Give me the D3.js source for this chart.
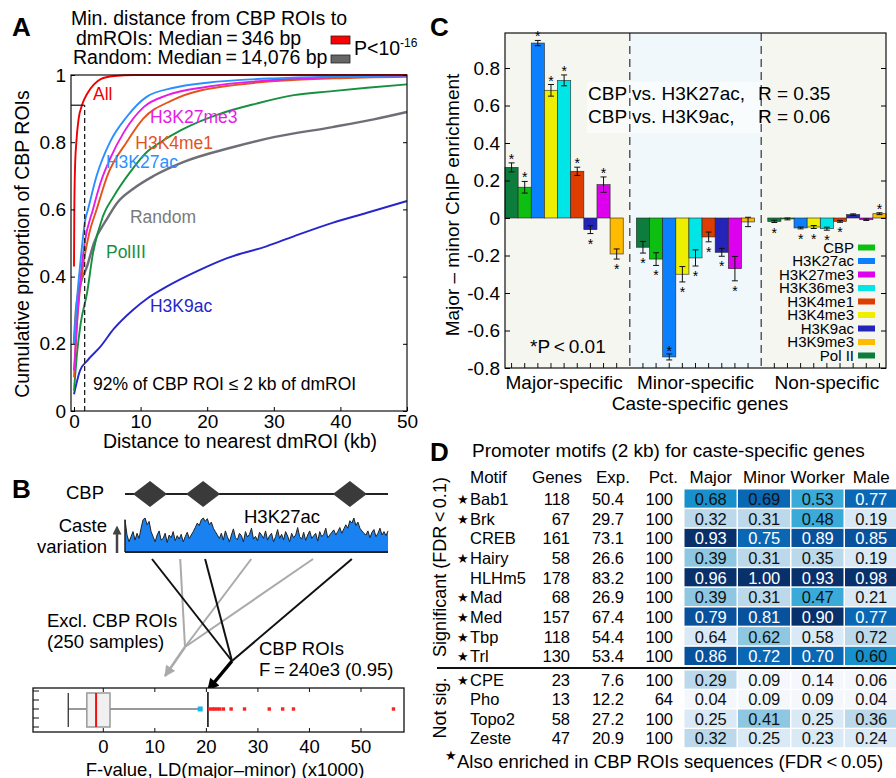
<!DOCTYPE html>
<html>
<head>
<meta charset="utf-8">
<script src="https://cdn.jsdelivr.net/npm/d3@7/dist/d3.min.js"></script>
<style>
html,body{margin:0;padding:0;background:#fff;}
svg{display:block;}
text{font-family:"Liberation Sans",Arial,Helvetica,sans-serif;}
</style>
</head>
<body>
<svg id="fig" width="896" height="778" viewBox="0 0 896 778"></svg>
<script>
/* ================= DATA ================= */
/* Panel A: cumulative distributions (distance kb, proportion) */
const cdfAll      = [[0,0.43],[0.05,0.6],[0.15,0.72],[0.35,0.8],[0.7,0.87],[1.2,0.91],[2,0.945],[3,0.972],[4,0.988],[6,0.997],[9,1],[50,1]];
const cdfH3K27me3 = [[0,0.12],[0.5,0.28],[1,0.4],[1.6,0.5],[2.85,0.6],[4,0.68],[5.4,0.75],[7.5,0.83],[10.5,0.905],[14,0.94],[20,0.965],[30,0.985],[40,0.995],[50,0.998]];
const cdfH3K4me1  = [[0,0.1],[0.6,0.3],[1.35,0.43],[2.3,0.53],[3.4,0.6],[5,0.7],[7.9,0.8],[10.4,0.87],[14.8,0.925],[24,0.97],[39,0.99],[50,0.995]];
const cdfH3K27ac  = [[0,0.2],[0.4,0.32],[0.9,0.43],[1.7,0.57],[2.1,0.6],[3.4,0.7],[5.4,0.8],[7.9,0.875],[10.9,0.935],[15,0.962],[20,0.977],[30,0.99],[50,0.998]];
const cdfRandom   = [[0,0.2],[0.3,0.3],[1,0.38],[1.95,0.43],[3,0.5],[4.9,0.57],[6.5,0.62],[8.8,0.66],[12,0.7],[16.3,0.74],[23.8,0.785],[30,0.815],[38.8,0.845],[45,0.868],[50,0.89]];
const cdfPolIII   = [[0,0.06],[0.5,0.18],[1,0.26],[1.95,0.35],[2.85,0.47],[4.35,0.58],[6,0.64],[8.4,0.71],[10.9,0.77],[13,0.8],[16,0.835],[22,0.885],[27.4,0.915],[33,0.94],[38.8,0.952],[44,0.962],[50,0.972]];
const cdfH3K9ac   = [[0,0.05],[0.9,0.12],[2,0.15],[3.9,0.19],[6,0.245],[8.8,0.3],[11,0.335],[13.9,0.37],[18.9,0.42],[23,0.455],[28.9,0.49],[33,0.52],[38.8,0.56],[44,0.59],[50,0.625]];
const cdfNames    = ["Random","H3K9ac","PolIII","H3K4me1","H3K27me3","H3K27ac","All"];
const cdfLabelPos = {All:[2.85,0.926],H3K27me3:[11.4,0.857],H3K4me1:[9.2,0.78],H3K27ac:[4.8,0.723],Random:[8.4,0.56],PolIII:[4.8,0.455],H3K9ac:[11.4,0.295]};
const cutoffKb = 1.6, cutoffFrac = 0.91;
const xTicksA = [0,10,20,30,40,50];
const yTicksA = [0,0.2,0.4,0.6,0.8,1];

/* Panel B */
const cbpPeaks   = [9.5, 29.7, 85.5];          // genomic position (0-100)
const exclPos    = [21, 48, 71.5];
const caste27ac  = [0.95,0.5,0.3,0.45,0.6,0.35,0.55,0.4,
  0.7,0.95,1.0,0.8,0.9,0.6,
  0.45,0.3,0.5,0.62,0.35,0.4,0.55,0.28,0.5,0.42,0.6,0.33,0.48,0.38,0.52,0.3,0.45,0.58,0.4,0.5,
  0.6,0.72,0.85,0.78,0.95,1.0,0.9,0.98,0.8,0.88,0.7,0.6,0.5,
  0.4,0.55,0.35,0.62,0.45,0.3,0.5,0.68,0.42,0.36,0.55,0.48,0.3,0.6,0.44,0.52,0.7,0.38,0.46,0.33,0.58,0.5,0.4,0.62,0.35,0.48,0.55,0.3,0.45,0.66,0.4,0.52,0.36,0.6,0.47,0.3,0.55,0.42,0.5,0.72,0.45,0.38,0.58,0.34,0.5,0.62,0.4,0.48,0.55,0.32,0.6,0.45,0.52,0.7,0.42,0.5,0.58,0.65,0.5,0.6,0.72,0.55,0.68,
  0.8,0.7,0.92,0.85,1.0,0.78,0.88,0.7,0.62,0.55,
  0.5,0.62,0.42,0.58,0.66,0.45,0.55,0.7,0.5,0.6,0.48,0.62];
const boxStats   = {lo:-6.8, q1:-3.2, med:-1.4, q3:1.3, hi:18.8};
const observedF  = 20.3;
const outliersF  = [20.6,21.2,21.6,22.1,22.6,23.3,24.8,27.4,32.2,34.8,36.9,56.3];
const xTicksB    = [0,10,20,30,40,50];

/* Panel C */
const chipGroups  = ["Major-specific","Minor-specific","Non-specific"];
const chipMarks   = ["Pol II","CBP","H3K27ac","H3K4me3","H3K36me3","H3K4me1","H3K9ac","H3K27me3","H3K9me3"];
const legendOrder = ["CBP","H3K27ac","H3K27me3","H3K36me3","H3K4me1","H3K4me3","H3K9ac","H3K9me3","Pol II"];
const majorVals = [0.27,0.164,0.933,0.681,0.734,0.249,-0.062,0.178,-0.192];
const majorErr  = [0.024,0.031,0.014,0.031,0.029,0.022,0.021,0.041,0.027];
const majorSig  = [1,1,1,1,1,1,1,1,1];
const minorVals = [-0.156,-0.219,-0.741,-0.300,-0.213,-0.101,-0.183,-0.270,-0.021];
const minorErr  = [0.031,0.034,0.016,0.041,0.043,0.026,0.021,0.065,0.025];
const minorSig  = [1,1,1,1,1,1,1,1,0];
const nonVals   = [-0.018,-0.005,-0.053,-0.048,-0.057,-0.018,0.018,-0.009,0.023];
const nonErr    = [0.006,0.005,0.005,0.008,0.008,0.005,0.004,0.004,0.005];
const nonSig    = [1,0,1,1,1,1,0,0,1];
const yTicksC   = [-0.8,-0.6,-0.4,-0.2,0,0.2,0.4,0.6,0.8];

/* Panel D */
const motifNames = ["Bab1","Brk","CREB","Hairy","HLHm5","Mad","Med","Tbp","Trl","CPE","Pho","Topo2","Zeste"];
const motifStar  = [1,1,0,1,0,1,1,1,1,1,0,0,0];
const motifGenes = [118,67,161,58,178,68,157,118,130,23,13,58,47];
const motifExp   = ["50.4","29.7","73.1","26.6","83.2","26.9","67.4","54.4","53.4","7.6","12.2","27.2","20.9"];
const motifPct   = [100,100,100,100,100,100,100,100,100,100,64,100,100];
const casteCols  = ["Major","Minor","Worker","Male"];
const casteValues = [[0.68,0.69,0.53,0.77],[0.32,0.31,0.48,0.19],[0.93,0.75,0.89,0.85],[0.39,0.31,0.35,0.19],[0.96,1.00,0.93,0.98],[0.39,0.31,0.47,0.21],[0.79,0.81,0.90,0.77],[0.64,0.62,0.58,0.72],[0.86,0.72,0.70,0.60],[0.29,0.09,0.14,0.06],[0.04,0.09,0.09,0.04],[0.25,0.41,0.25,0.36],[0.32,0.25,0.23,0.24]];
const casteLevels = [[5,6,4,6],[2,2,4,1],[8,6,7,7],[3,2,2,1],[8,8,8,8],[3,2,4,1],[7,7,8,6],[1,3,1,2],[7,6,6,5],[2,0,0,0],[0,0,0,0],[1,3,1,2],[2,1,1,1]];
const nSignificant = 9;

/* ================= DRAW ================= */
const svg = d3.select("#fig");
const defs = svg.append("defs");
function T(g, x, y, s, size, o={}) {
  const t = g.append("text").attr("x",x).attr("y",y).attr("font-size",size).text(s);
  if (o.anchor) t.attr("text-anchor",o.anchor);
  if (o.fill) t.attr("fill",o.fill);
  if (o.weight) t.attr("font-weight",o.weight);
  if (o.family) t.attr("font-family",o.family);
  return t;
}
function panelLabel(x,y,s){ T(svg,x,y,s,26,{weight:"bold"}); }

/* ---------- Panel A ---------- */
{
  const g = svg.append("g");
  const xA = d3.scaleLinear().domain([-0.45,50]).range([71,407]);
  const yA = d3.scaleLinear().domain([0,1]).range([411,75]);
  panelLabel(12,36,"A");
  T(g,71,25,"Min. distance from CBP ROIs to",19.5);
  T(g,76,45,"dmROIs: Median\u2009=\u2009346 bp",19.5);
  T(g,73,64,"Random: Median\u2009=\u200914,076 bp",19.5);
  g.append("rect").attr("x",331).attr("y",36).attr("width",19).attr("height",8).attr("fill","#ff0000").attr("stroke","#222").attr("stroke-width",0.8);
  g.append("rect").attr("x",331).attr("y",55).attr("width",19).attr("height",8).attr("fill","#666").attr("stroke","#222").attr("stroke-width",0.8);
  const p = T(g,354,55,"P<10",19.5);
  p.append("tspan").attr("dy",-8).attr("font-size",12).text("-16");

  defs.append("clipPath").attr("id","clipA").append("rect").attr("x",71).attr("y",73).attr("width",337).attr("height",339);
  const colors = {All:"#f00000",H3K27me3:"#e61ce6",H3K4me1:"#e5531c",H3K27ac:"#2b8fff",Random:"#6e6e78",PolIII:"#16903f",H3K9ac:"#2626cc"};
  const labelColors = Object.assign({}, colors, {Random:"#7a7a7a"});
  const series = {All:cdfAll,H3K27me3:cdfH3K27me3,H3K4me1:cdfH3K4me1,H3K27ac:cdfH3K27ac,Random:cdfRandom,PolIII:cdfPolIII,H3K9ac:cdfH3K9ac};
  const line = d3.line().x(d=>xA(d[0])).y(d=>yA(d[1])).curve(d3.curveMonotoneX);
  const cg = g.append("g").attr("clip-path","url(#clipA)");
  cdfNames.forEach(n=>{
    cg.append("path").attr("d",line(series[n])).attr("fill","none").attr("stroke",colors[n]).attr("stroke-width",n==="Random"?2.4:1.9);
  });
  g.append("line").attr("x1",xA(cutoffKb)).attr("x2",xA(cutoffKb)).attr("y1",yA(0)).attr("y2",yA(cutoffFrac))
    .attr("stroke","#222").attr("stroke-width",1.3).attr("stroke-dasharray","5,3");
  g.append("line").attr("x1",xA.range()[0]).attr("x2",xA(cutoffKb)).attr("y1",yA(cutoffFrac)).attr("y2",yA(cutoffFrac))
    .attr("stroke","#222").attr("stroke-width",1.3);
  g.append("rect").attr("x",71).attr("y",75).attr("width",336).attr("height",336).attr("fill","none").attr("stroke","#111").attr("stroke-width",1.2);
  const ax = g.append("g").attr("transform","translate(71,0)").call(d3.axisLeft(yA).tickValues(yTicksA).tickSize(-4).tickPadding(5).tickFormat(d3.format("~g")));
  ax.select(".domain").remove();
  ax.selectAll("text").attr("font-size",19).attr("font-family",null);
  const axr = g.append("g").attr("transform","translate(407,0)").call(d3.axisRight(yA).tickValues(yTicksA).tickSize(-4).tickFormat(""));
  axr.select(".domain").remove();
  const axb = g.append("g").attr("transform","translate(0,411)").call(d3.axisBottom(xA).tickValues(xTicksA).tickSize(-4).tickPadding(4));
  axb.select(".domain").remove();
  axb.selectAll("text").attr("font-size",19).attr("font-family",null);
  T(g,240,448,"Distance to nearest dmROI (kb)",19.5,{anchor:"middle"});
  T(g,0,0,"Cumulative proportion of CBP ROIs",19.5,{anchor:"middle"}).attr("transform","translate(29,244) rotate(-90)");
  Object.keys(cdfLabelPos).forEach(n=>{
    const [lx,ly] = cdfLabelPos[n];
    T(g,xA(lx),yA(ly),n,17.5,{fill:labelColors[n]});
  });
  T(g,xA(2.85),yA(0.0625),"92% of CBP ROI \u2264 2 kb of dmROI",17.5);
}

/* ---------- Panel B ---------- */
{
  const g = svg.append("g");
  panelLabel(12,498,"B");
  const gx = d3.scaleLinear().domain([0,100]).range([125,388]);
  T(g,66,499,"CBP",18.5);
  g.append("line").attr("x1",gx(0)).attr("x2",gx(100)).attr("y1",494).attr("y2",494).attr("stroke","#222").attr("stroke-width",2.2);
  cbpPeaks.forEach(p=>{
    const cx = gx(p);
    g.append("path").attr("d",`M${cx-17},494 L${cx},481 L${cx+17},494 L${cx},507 Z`).attr("fill","#3a3a3a");
  });
  T(g,107,532,"Caste",18.5,{anchor:"end"});
  T(g,107,553,"variation",18.5,{anchor:"end"});
  defs.append("marker").attr("id","arrUp").attr("viewBox","0 0 10 10").attr("refX",5).attr("refY",5)
    .attr("markerWidth",9).attr("markerHeight",9).attr("markerUnits","userSpaceOnUse").attr("orient","auto")
    .append("path").attr("d","M0,0 L10,5 L0,10 z").attr("fill","#444");
  g.append("line").attr("x1",117).attr("x2",117).attr("y1",553).attr("y2",530).attr("stroke","#444").attr("stroke-width",2.5).attr("marker-end","url(#arrUp)");
  const sx = d3.scaleLinear().domain([0,caste27ac.length-1]).range([gx(0),gx(100)]);
  const sy = d3.scaleLinear().domain([0,1]).range([552,518]);
  const area = d3.area().x((d,i)=>sx(i)).y0(552).y1(d=>sy(d));
  g.append("path").attr("d",area(caste27ac)).attr("fill","#1a82f0");
  g.append("path").attr("d",d3.line().x((d,i)=>sx(i)).y(d=>sy(d))(caste27ac)).attr("fill","none").attr("stroke","#222").attr("stroke-width",1);
  g.append("line").attr("x1",gx(0)).attr("x2",gx(0)).attr("y1",552).attr("y2",sy(caste27ac[0])).attr("stroke","#222").attr("stroke-width",1.5);
  g.append("line").attr("x1",gx(0)).attr("x2",gx(100)).attr("y1",552).attr("y2",552).attr("stroke","#222").attr("stroke-width",2);
  T(g,244,523,"H3K27ac",18.5);

  const xB = d3.scaleLinear().domain([0,50]).range([103.3,361]);
  const bx0=33,bx1=404,by0=688,by1=732,bym=709;
  const blackJoin=[232,661], grayJoin=[185,647];
  defs.append("marker").attr("id","arrBlk").attr("viewBox","0 0 10 10").attr("refX",9).attr("refY",5)
    .attr("markerWidth",14).attr("markerHeight",12).attr("markerUnits","userSpaceOnUse").attr("orient","auto")
    .append("path").attr("d","M0,0 L10,5 L0,10 z").attr("fill","#000");
  defs.append("marker").attr("id","arrGry").attr("viewBox","0 0 10 10").attr("refX",9).attr("refY",5)
    .attr("markerWidth",12).attr("markerHeight",11).attr("markerUnits","userSpaceOnUse").attr("orient","auto")
    .append("path").attr("d","M0,0 L10,5 L0,10 z").attr("fill","#aaa");
  exclPos.forEach(p=>{
    g.append("line").attr("x1",gx(p)).attr("y1",559).attr("x2",grayJoin[0]).attr("y2",grayJoin[1]).attr("stroke","#aaa").attr("stroke-width",2);
  });
  g.append("line").attr("x1",grayJoin[0]).attr("y1",grayJoin[1]).attr("x2",165).attr("y2",676).attr("stroke","#aaa").attr("stroke-width",2.6).attr("marker-end","url(#arrGry)");
  cbpPeaks.forEach(p=>{
    g.append("line").attr("x1",gx(p)+2).attr("y1",559).attr("x2",blackJoin[0]).attr("y2",blackJoin[1]).attr("stroke","#111").attr("stroke-width",2);
  });
  g.append("line").attr("x1",blackJoin[0]).attr("y1",blackJoin[1]).attr("x2",xB(observedF)).attr("y2",by0+2).attr("stroke","#000").attr("stroke-width",3.5).attr("marker-end","url(#arrBlk)");
  T(g,47,627,"Excl. CBP ROIs",18.5);
  T(g,47,648,"(250 samples)",18.5);
  T(g,259,655,"CBP ROIs",18.5);
  T(g,259,676,"F\u2009=\u2009240e3 (0.95)",18.5);

  g.append("rect").attr("x",bx0).attr("y",by0).attr("width",bx1-bx0).attr("height",by1-by0).attr("fill","#fff").attr("stroke","#111").attr("stroke-width",1.3);
  xTicksB.forEach(t=>{
    g.append("line").attr("x1",xB(t)).attr("x2",xB(t)).attr("y1",by0).attr("y2",by0+4).attr("stroke","#111");
    g.append("line").attr("x1",xB(t)).attr("x2",xB(t)).attr("y1",by1).attr("y2",by1-4).attr("stroke","#111");
    T(g,xB(t),753,String(t),18.5,{anchor:"middle"});
  });
  d3.range(5).forEach(i=>{
    const yy = 691+i*9;
    g.append("line").attr("x1",bx0).attr("x2",bx0+6).attr("y1",yy).attr("y2",yy).attr("stroke","#111");
  });
  g.append("line").attr("x1",xB(boxStats.lo)).attr("x2",xB(boxStats.q1)).attr("y1",bym).attr("y2",bym).attr("stroke","#999").attr("stroke-width",2);
  g.append("line").attr("x1",xB(boxStats.q3)).attr("x2",xB(boxStats.hi)).attr("y1",bym).attr("y2",bym).attr("stroke","#999").attr("stroke-width",2);
  g.append("line").attr("x1",xB(boxStats.lo)).attr("x2",xB(boxStats.lo)).attr("y1",693).attr("y2",727).attr("stroke","#222").attr("stroke-width",1.2);
  g.append("rect").attr("x",xB(boxStats.q1)).attr("y",693).attr("width",xB(boxStats.q3)-xB(boxStats.q1)).attr("height",34).attr("fill","#f0f0f0").attr("stroke","#999").attr("stroke-width",1.5);
  g.append("line").attr("x1",xB(boxStats.med)).attr("x2",xB(boxStats.med)).attr("y1",693).attr("y2",727).attr("stroke","#f01010").attr("stroke-width",2);
  g.append("rect").attr("x",xB(boxStats.hi)-2.5).attr("y",bym-2.5).attr("width",5).attr("height",5).attr("fill","#18b4ec");
  g.append("line").attr("x1",xB(observedF)).attr("x2",xB(observedF)).attr("y1",692).attr("y2",727).attr("stroke","#000").attr("stroke-width",1.5);
  outliersF.forEach(v=>{
    g.append("rect").attr("x",xB(v)-1.7).attr("y",bym-1.7).attr("width",3.4).attr("height",3.4).attr("fill","#ff2020");
  });
  T(g,225,776,"F-value, LD(major\u2013minor) (x1000)",18.5,{anchor:"middle"});
}

/* ---------- Panel C ---------- */
{
  const g = svg.append("g");
  panelLabel(430,36,"C");
  const L=505,R=886,TOP=33,BOT=368;
  const yC = d3.scaleLinear().domain([-0.8,0.8]).range([BOT,68]);
  const slots = d3.scaleBand().domain(d3.range(chipGroups.length*10-1)).range([L,R]).padding(0);
  const bw = slots.bandwidth();
  const colors = {"Pol II":"#0d7d3d","CBP":"#0cbf10","H3K27ac":"#0a80ff","H3K4me3":"#eeee00","H3K36me3":"#00e6e6","H3K4me1":"#dd3d00","H3K9ac":"#2424b8","H3K27me3":"#dd00ee","H3K9me3":"#ffbb00"};
  const divs = [1,2].map(k=>slots(k*10-1)+bw/2);
  const bounds = [L,divs[0],divs[1],R];
  const bgs = ["#f6f6f0","#f1f8fb","#f6f6f0"];
  bgs.forEach((c,i)=>g.append("rect").attr("x",bounds[i]).attr("y",TOP).attr("width",bounds[i+1]-bounds[i]).attr("height",BOT-TOP).attr("fill",c));
  g.append("rect").attr("x",587).attr("y",82).attr("width",176).attr("height",51).attr("fill","#fff").attr("opacity",0.6);

  const vals=[majorVals,minorVals,nonVals], errs=[majorErr,minorErr,nonErr], sigs=[majorSig,minorSig,nonSig];
  const recs=[];
  vals.forEach((vs,gi)=>vs.forEach((v,i)=>recs.push({gi,i,v,e:errs[gi][i],s:sigs[gi][i],mark:chipMarks[i]})));
  recs.forEach(d=>{
    const x = slots(d.gi*10+d.i);
    g.append("rect").attr("x",x).attr("width",bw).attr("y",yC(Math.max(0,d.v))).attr("height",Math.abs(yC(d.v)-yC(0)))
      .attr("fill",colors[d.mark]).attr("stroke","#222").attr("stroke-width",0.7).attr("stroke-opacity",0.85);
  });
  recs.forEach(d=>{
    const cx = slots(d.gi*10+d.i)+bw/2;
    const y1=yC(d.v+d.e), y2=yC(d.v-d.e);
    g.append("line").attr("x1",cx).attr("x2",cx).attr("y1",y1).attr("y2",y2).attr("stroke","#111").attr("stroke-width",1);
    [y1,y2].forEach(yy=>g.append("line").attr("x1",cx-3).attr("x2",cx+3).attr("y1",yy).attr("y2",yy).attr("stroke","#111").attr("stroke-width",1));
    if (d.s) {
      let by;
      if (d.v>=0) by = y1+1;
      else { by = y2+15; if (by>BOT-2) by = yC(d.v)-1; }
      T(g,cx,by,"*",14,{anchor:"middle"});
    }
  });
  divs.forEach(x=>g.append("line").attr("x1",x).attr("x2",x).attr("y1",TOP).attr("y2",BOT).attr("stroke","#333").attr("stroke-width",1.2).attr("stroke-dasharray","8,5"));
  g.append("rect").attr("x",L).attr("y",TOP).attr("width",R-L).attr("height",BOT-TOP).attr("fill","none").attr("stroke","#111").attr("stroke-width",1.2);
  const ax = g.append("g").attr("transform",`translate(${L},0)`).call(d3.axisLeft(yC).tickValues(yTicksC).tickSize(-5).tickPadding(5).tickFormat(d=>d===0?"0":d.toFixed(1)));
  ax.select(".domain").remove(); ax.selectAll("text").attr("font-size",19).attr("font-family",null);
  const axr = g.append("g").attr("transform",`translate(${R},0)`).call(d3.axisRight(yC).tickValues(yTicksC).tickSize(-5).tickFormat(""));
  axr.select(".domain").remove();
  recs.forEach(d=>{
    const cx = slots(d.gi*10+d.i)+bw/2;
    g.append("line").attr("x1",cx).attr("x2",cx).attr("y1",BOT).attr("y2",BOT-5).attr("stroke","#111");
  });
  T(g,588,100,"CBP vs. H3K27ac,",19);
  T(g,758,100,"R = 0.35",19);
  T(g,588,123,"CBP vs. H3K9ac,",19);
  T(g,758,123,"R = 0.06",19);
  T(g,530,353,"*P\u2009<\u20090.01",19);
  legendOrder.forEach((n,i)=>{
    const cy = 247.5+i*13.5;
    T(g,854,cy+5,n,15,{anchor:"end"});
    g.append("rect").attr("x",858).attr("y",cy-3).attr("width",17).attr("height",6).attr("fill",colors[n]);
  });
  chipGroups.forEach((n,gi)=>{
    const cx = (slots(gi*10)+slots(gi*10+8)+bw)/2;
    T(g,cx,389,n,19,{anchor:"middle"});
  });
  T(g,700,410,"Caste-specific genes",19,{anchor:"middle"});
  T(g,0,0,"Major \u2013 minor ChIP enrichment",19,{anchor:"middle"}).attr("transform","translate(459,205) rotate(-90)");
}

/* ---------- Panel D ---------- */
{
  const g = svg.append("g");
  panelLabel(430,461,"D");
  T(g,472,457,"Promoter motifs (2 kb) for caste-specific genes",19);
  const cols = d3.scaleBand().domain(casteCols).range([684,898]);
  const rowsSig = d3.scaleBand().domain(d3.range(nSignificant)).range([489,666]);
  const rowsNs = d3.scaleBand().domain(d3.range(nSignificant,motifNames.length)).range([670,748]);
  const rowY = i => i<nSignificant ? rowsSig(i) : rowsNs(i);
  const rh = rowsSig.bandwidth();
  const shade = d3.scaleOrdinal().domain(d3.range(9)).range(["#f4f8fc","#d9e9f5","#bcd9ec","#8dc7e2","#3aabd9","#1890cc","#0a67b3","#08529d","#08306b"]);
  T(g,470,483,"Motif",17);
  T(g,582,483,"Genes",17,{anchor:"end"});
  T(g,630,483,"Exp.",17,{anchor:"end"});
  T(g,678,483,"Pct.",17,{anchor:"end"});
  casteCols.forEach(c=>T(g,cols(c)+cols.bandwidth()/2,483,c,17,{anchor:"middle"}));
  motifNames.forEach((m,i)=>{
    const y0 = rowY(i), base = y0+rh/2+6;
    casteCols.forEach((c,j)=>{
      g.append("rect").attr("x",cols(c)+0.5).attr("y",y0+0.5).attr("width",cols.bandwidth()-1.5).attr("height",rh-1.5).attr("fill",shade(casteLevels[i][j]));
      const v = casteValues[i][j];
      const white = casteLevels[i][j]>=6 && v>=0.7;
      T(g,cols(c)+cols.bandwidth()/2,base,v.toFixed(2),16.5,{anchor:"middle",fill:white?"#fff":"#111"});
    });
    if (motifStar[i]) T(g,463,base-1,"\u2605",13,{anchor:"middle",family:"DejaVu Sans"});
    T(g,470,base,m,16.5);
    T(g,570,base,String(motifGenes[i]),16.5,{anchor:"end"});
    T(g,624,base,motifExp[i],16.5,{anchor:"end"});
    T(g,673,base,String(motifPct[i]),16.5,{anchor:"end"});
  });
  g.append("line").attr("x1",437).attr("x2",896).attr("y1",668).attr("y2",668).attr("stroke","#111").attr("stroke-width",2.2);
  T(g,0,0,"Significant (FDR\u2009<\u20090.1)",18,{anchor:"middle"}).attr("transform","translate(446,567) rotate(-90)");
  T(g,0,0,"Not sig.",18,{anchor:"middle"}).attr("transform","translate(446,708) rotate(-90)");
  T(g,451,760,"\u2605",13,{anchor:"middle",family:"DejaVu Sans"});
  T(g,457,768,"Also enriched in CBP ROIs sequences (FDR\u2009<\u20090.05)",18.5);
}
</script>
</body>
</html>
